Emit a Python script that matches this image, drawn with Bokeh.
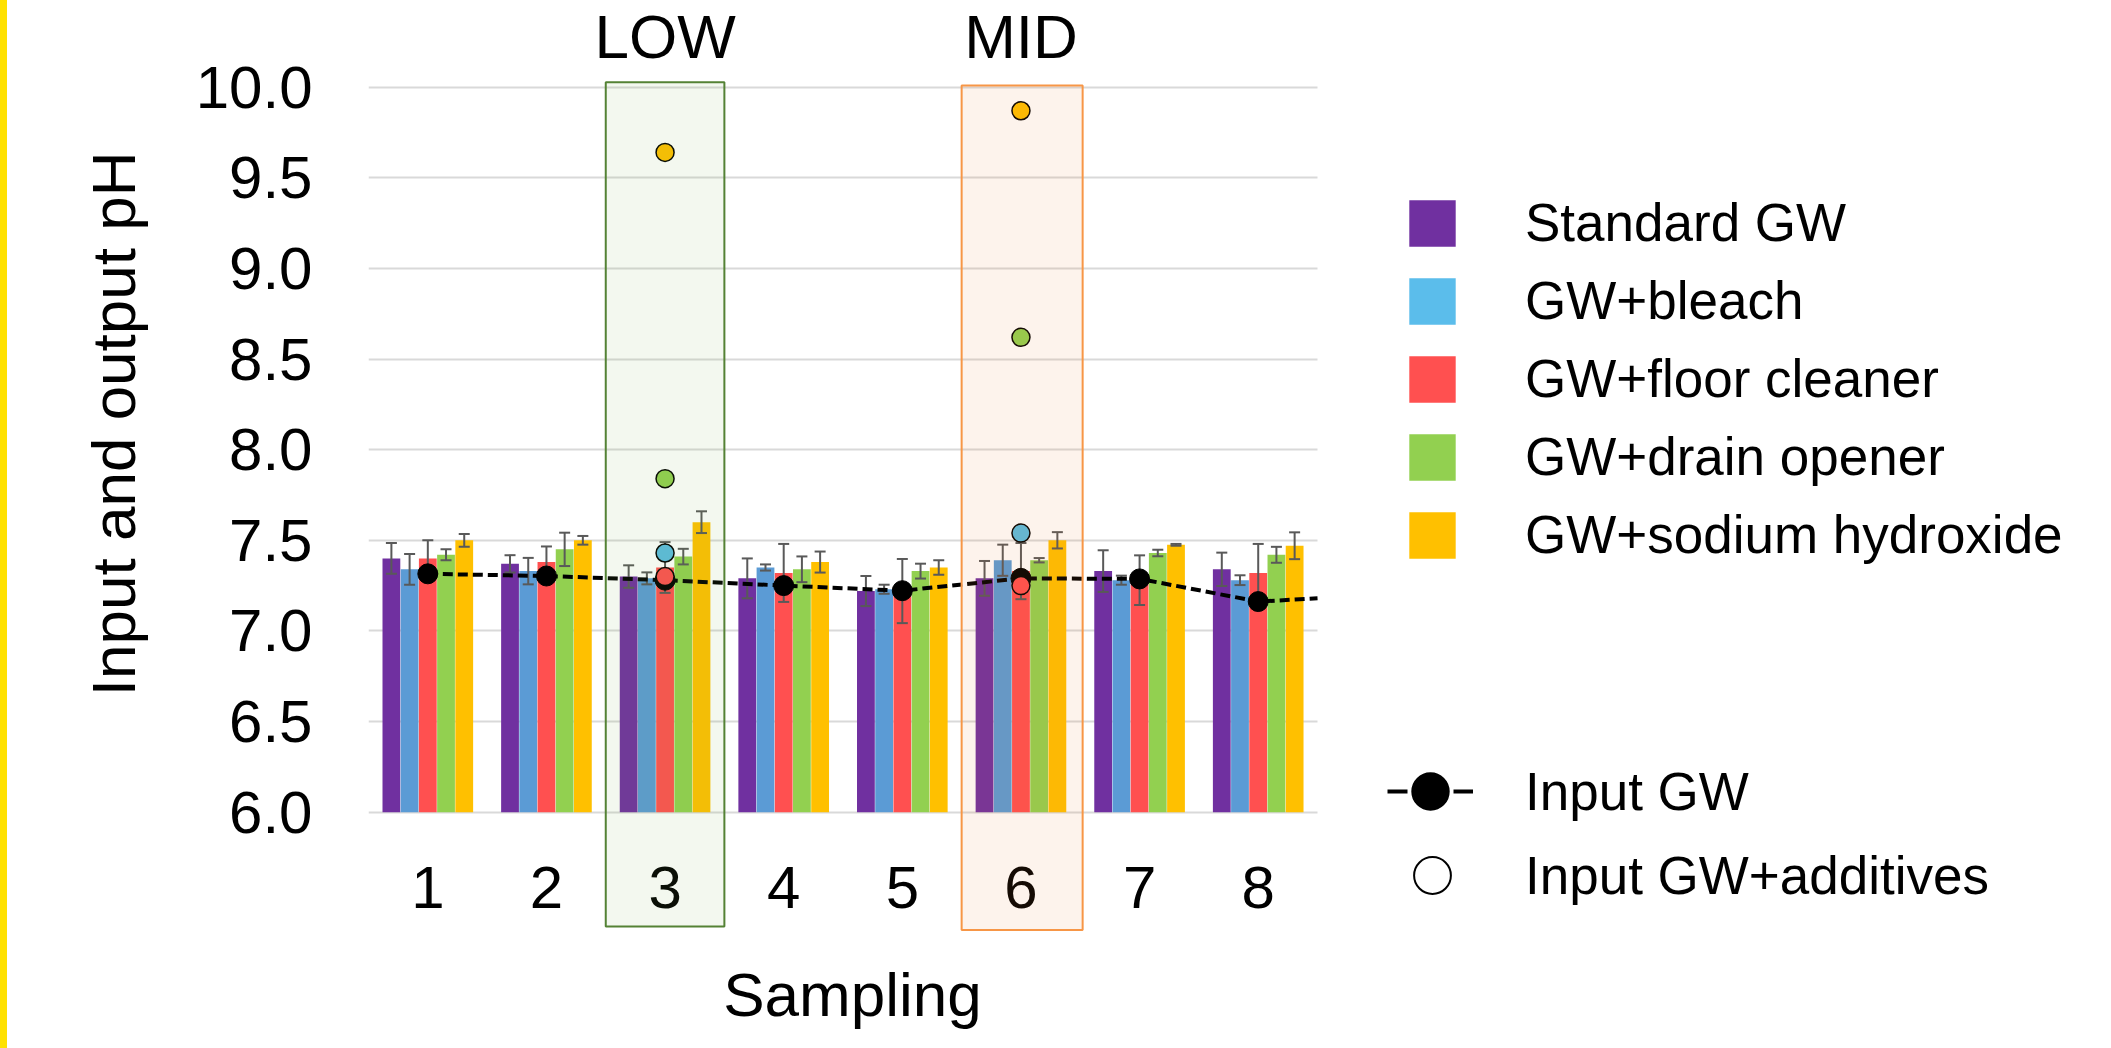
from bokeh.plotting import figure
from bokeh.models import (ColumnDataSource, Range1d, FixedTicker, PrintfTickFormatter,
                          BoxAnnotation, Legend, LegendItem, Title)
from bokeh.transform import dodge
from bokeh.core.properties import value
from bokeh.embed import file_html
from bokeh.resources import INLINE

# ---------------- data ----------------
sampling = [1, 2, 3, 4, 5, 6, 7, 8]
sampling_labels = ["1", "2", "3", "4", "5", "6", "7", "8"]
series_names = ["Standard GW", "GW+bleach", "GW+floor cleaner",
                "GW+drain opener", "GW+sodium hydroxide"]

standard_gw = [7.40, 7.37, 7.30, 7.29, 7.22, 7.29, 7.33, 7.34]
gw_bleach = [7.34, 7.33, 7.29, 7.35, 7.23, 7.39, 7.28, 7.28]
gw_floor_cleaner = [7.40, 7.38, 7.35, 7.32, 7.22, 7.33, 7.28, 7.32]
gw_drain_opener = [7.42, 7.45, 7.41, 7.34, 7.33, 7.39, 7.43, 7.42]
gw_sodium_hydroxide = [7.50, 7.50, 7.60, 7.38, 7.35, 7.50, 7.475, 7.47]

standard_gw_err = [0.085, 0.048, 0.062, 0.11, 0.083, 0.096, 0.115, 0.092]
gw_bleach_err = [0.085, 0.073, 0.033, 0.017, 0.025, 0.086, 0.025, 0.027]
gw_floor_cleaner_err = [0.10, 0.086, 0.14, 0.16, 0.177, 0.155, 0.137, 0.16]
gw_drain_opener_err = [0.03, 0.092, 0.043, 0.071, 0.041, 0.012, 0.018, 0.044]
gw_sodium_hydroxide_err = [0.035, 0.024, 0.06, 0.058, 0.04, 0.045, 0.005, 0.074]

# input greywater (the dashed line runs on to the right edge of the plot area)
input_gw_sampling = [1, 2, 3, 4, 5, 6, 7, 8, 8.5]
input_gw = [7.315, 7.303, 7.28, 7.25, 7.222, 7.29, 7.287, 7.162, 7.18]

# input greywater + additives (samplings 3 and 6)
additive_sampling = [3, 6]
input_bleach = [7.43, 7.54]
input_floor_cleaner = [7.30, 7.25]
input_drain_opener = [7.84, 8.62]
input_sodium_hydroxide = [9.64, 9.87]

zone_labels = ["LOW", "MID"]
zone_sampling = [3, 6]

y_ticks = [6.0, 6.5, 7.0, 7.5, 8.0, 8.5, 9.0, 9.5, 10.0]

# ---------------- styling ----------------
FONT = "Liberation Sans"
bar_colors = ["#7030A0", "#5B9BD5", "#FF5050", "#92D050", "#FFC000"]
legend_colors = ["#7030A0", "#5BBDEB", "#FF5050", "#92D050", "#FFC000"]
circle_colors = ["#5BBCE0", "#FF5050", "#92D050", "#FFC000"]
ERR = "#595959"
NAN = float("nan")

X0, X1 = 0.5, 8.5   # plotted sampling span

p = figure(width=2111, height=1048,
           x_range=Range1d(0.5, 15.193), y_range=Range1d(4.696, 10.4784),
           x_axis_location=None,
           output_backend="svg", toolbar_location=None,
           min_border_left=368, min_border_right=0,
           min_border_top=0, min_border_bottom=0,
           outline_line_color=None, background_fill_color="white",
           border_fill_color="white", border_fill_alpha=0)
p.styles = {"background": "linear-gradient(to right, #FFE100 0px, #FFE100 7px, #FFFFFF 7px)"}

series = [standard_gw, gw_bleach, gw_floor_cleaner, gw_drain_opener, gw_sodium_hydroxide]
errs = [standard_gw_err, gw_bleach_err, gw_floor_cleaner_err, gw_drain_opener_err,
        gw_sodium_hydroxide_err]

data = dict(sampling=sampling)
for k, (vals, ev) in enumerate(zip(series, errs)):
    data[f"v{k}"] = vals
    data[f"lo{k}"] = [v - e for v, e in zip(vals, ev)]
    data[f"hi{k}"] = [v + e for v, e in zip(vals, ev)]
src = ColumnDataSource(data)

step = 0.1535
offsets = [-2 * step, -step, 0.0, step, 2 * step]

# horizontal grid lines, limited to the plotted span
p.ygrid.ticker = FixedTicker(ticks=y_ticks)
p.ygrid.grid_line_color = "#D9D9D9"
p.ygrid.grid_line_width = 2
p.xgrid.visible = False
g = p.ygrid[0]
if "cross_bounds" in g.properties():
    g.cross_bounds = (X0, X1)
else:
    g.visible = False
    p.segment(x0=[X0] * len(y_ticks), x1=[X1] * len(y_ticks), y0=y_ticks, y1=y_ticks,
              line_color="#D9D9D9", line_width=2)

for k in range(5):
    p.vbar(x=dodge("sampling", offsets[k]), top=f"v{k}", bottom=6.0, width=0.15,
           source=src, fill_color=bar_colors[k], line_color=None)

for k in range(5):
    xs = dodge("sampling", offsets[k])
    p.segment(x0=xs, x1=xs, y0=f"lo{k}", y1=f"hi{k}", source=src,
              line_color=ERR, line_width=2)
    p.scatter(x=xs, y=f"lo{k}", source=src, marker="dash", size=11,
              line_color=ERR, line_width=2)
    p.scatter(x=xs, y=f"hi{k}", source=src, marker="dash", size=11,
              line_color=ERR, line_width=2)

# input GW dashed line
gw_src = ColumnDataSource(dict(x=input_gw_sampling, y=input_gw))
p.line(x="x", y="y", source=gw_src, line_color="black", line_width=4, line_dash="10 5")
dot_src = ColumnDataSource(dict(x=input_gw_sampling[:8], y=input_gw[:8]))
p.scatter(x="x", y="y", source=dot_src, size=20, fill_color="black", line_color="black")

# input + additives circles
add_src = ColumnDataSource(dict(x=additive_sampling, b=input_bleach, f=input_floor_cleaner,
                                d=input_drain_opener, s=input_sodium_hydroxide))
for col, c in zip(["b", "f", "d", "s"], circle_colors):
    p.scatter(x="x", y=col, source=add_src, size=18, fill_color=c,
              line_color="black", line_width=1.5)

# zone labels above the plot area
p.text(x=zone_sampling, y=[10.280] * 2, text=zone_labels, text_align="center",
       text_baseline="middle", text_font=value(FONT), text_font_size="62px",
       text_color="black")

# sampling labels (x axis) and axis title
p.text(x=sampling, y=[5.584] * len(sampling), text=sampling_labels, text_align="center",
       text_baseline="middle", text_font=value(FONT), text_font_size="60px",
       text_color="black")
p.text(x=[4.58], y=[4.994], text=["Sampling"], text_align="center",
       text_baseline="middle", text_font=value(FONT), text_font_size="62px",
       text_color="black")

# highlighted boxes
p.add_layout(BoxAnnotation(left=2.5, right=3.5, top=10.028, bottom=5.369,
                           fill_color="#70AD47", fill_alpha=0.085,
                           line_color="#548235", line_alpha=1, line_width=2))
p.add_layout(BoxAnnotation(left=5.5, right=6.52, top=10.01, bottom=5.35,
                           fill_color="#ED7D31", fill_alpha=0.09,
                           line_color="#F79646", line_alpha=1, line_width=2))

# y axis
yax = p.yaxis[0]
yax.ticker = FixedTicker(ticks=y_ticks)
yax.formatter = PrintfTickFormatter(format="%.1f")
yax.axis_line_color = None
yax.major_tick_line_color = None
yax.minor_tick_line_color = None
yax.major_label_text_font = FONT
yax.major_label_text_font_size = "60px"
yax.major_label_text_color = "black"
yax.major_label_standoff = 50

ytitle = Title(text="Input and output pH", align="right", vertical_align="bottom",
               offset=151, standoff=90, text_font=FONT, text_font_size="62px",
               text_font_style="normal", text_color="black")
p.add_layout(ytitle, "left")

# legend proxies (not drawn in the plot area)
bar_proxies = [p.vbar(x=[NAN], top=[NAN], width=0.1, fill_color=c, line_color=None)
               for c in legend_colors]
line_proxy = p.line(x=[NAN], y=[NAN], line_color="black", line_width=4, line_dash="20 46")
dot_proxy = p.scatter(x=[NAN], y=[NAN], fill_color="black", line_color="black", line_width=4)
open_proxy = p.scatter(x=[NAN], y=[NAN], fill_color="white", line_color="black", line_width=2)


def style(lg):
    lg.border_line_color = None
    lg.background_fill_alpha = 0
    lg.padding = 0
    lg.margin = 0
    lg.label_text_font = FONT
    lg.label_text_font_size = "53px"
    lg.label_text_color = "black"


lg1 = Legend(items=[LegendItem(label=n, renderers=[r]) for n, r in zip(series_names, bar_proxies)],
             location=(1035, 483), glyph_width=58, glyph_height=58, label_standoff=64,
             spacing=17)
style(lg1)
lg2 = Legend(items=[LegendItem(label="Input GW", renderers=[line_proxy, dot_proxy])],
             location=(1019, 214), glyph_width=86, glyph_height=86, label_standoff=52)
style(lg2)
lg3 = Legend(items=[LegendItem(label="Input GW+additives", renderers=[open_proxy])],
             location=(1018, 127), glyph_width=92, glyph_height=92, label_standoff=47)
style(lg3)
for lg in (lg1, lg2, lg3):
    p.add_layout(lg)

open("out.html", "w").write(file_html(p, INLINE))
